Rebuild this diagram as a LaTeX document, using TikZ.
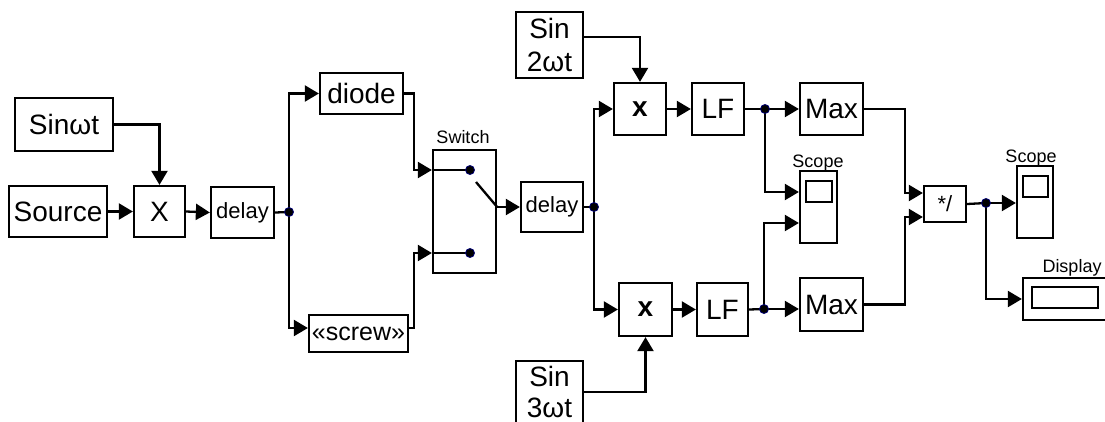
\documentclass[tikz,border=0pt]{standalone}
\usepackage{fontspec}
\setmainfont{Liberation Sans}
\usetikzlibrary{arrows.meta,calc}
\begin{document}
\begin{tikzpicture}[x=1pt,y=-1pt,
  blk/.style={draw, line width=2.3pt, inner sep=0pt, rectangle},
  arr/.style={line width=2.3pt, -{Triangle[length=14pt,width=16pt]}},
  ln/.style={line width=2.3pt},
  dotst/.style={fill=black, draw=blue!45!black, line width=0.8pt},
  big/.style={font=\fontsize{28}{33}\selectfont},
  mid/.style={font=\fontsize{22}{26}\selectfont},
  small/.style={font=\fontsize{18}{21}\selectfont, inner sep=0pt}]
\useasboundingbox (0,0) rectangle (1105,421);
\fill[white] (0,0) rectangle (1105,421);
\clip (0,0) rectangle (1105,421);

% blocks
\node[blk,big,minimum width=98pt,minimum height=53pt] (sinwt) at (64,124.5) {Sinωt};
\node[blk,big,minimum width=98pt,minimum height=51pt] (source) at (58,211.5) {Source};
\node[blk,big,minimum width=51pt,minimum height=51pt] (mult0) at (159.5,211.5) {X};
\node[blk,mid,minimum width=63pt,minimum height=51pt] (delay1) at (242.5,212.5) {delay};
\node[blk,big,minimum width=83pt,minimum height=41pt] (diode) at (361.5,93.5) {diode};
\node[blk,font=\fontsize{25}{29}\selectfont,minimum width=99pt,minimum height=37pt] (screw) at (358.5,333.5) {«screw»};
\node[blk,minimum width=63pt,minimum height=123pt] (switch) at (464.5,211.5) {};
\node[small] (swlab) at (463,137) {Switch};
\node[blk,mid,minimum width=62pt,minimum height=50pt] (delay2) at (552,207) {delay};
\node[blk,big,align=center,minimum width=67pt,minimum height=66pt] (sin2) at (549.5,45) {Sin\\2ωt};
\node[blk,font=\fontsize{28}{31}\selectfont,align=center,minimum width=67pt,minimum height=62pt] (sin3) at (549.5,392) {Sin\\3ωt};
\node[blk,big,minimum width=52pt,minimum height=52pt] (x1) at (640,109) {\textbf{x}};
\node[blk,big,minimum width=53pt,minimum height=53pt] (x2) at (645.5,309.5) {\textbf{x}};
\node[blk,big,minimum width=52pt,minimum height=52pt] (lf1) at (718,109) {LF};
\node[blk,big,minimum width=51pt,minimum height=53pt] (lf2) at (722.5,309.5) {LF};
\node[blk,big,minimum width=63pt,minimum height=52pt] (max1) at (831.5,109) {Max};
\node[blk,big,minimum width=63pt,minimum height=53pt] (max2) at (831.5,304.5) {Max};
\node[blk,minimum width=37pt,minimum height=72pt] (sc1) at (818.5,207) {};
\node[blk,minimum width=26pt,minimum height=21pt] (sc1in) at (819,191.5) {};
\node[small] (sc1lab) at (818,163) {Scope};
\node[blk,mid,minimum width=42pt,minimum height=36pt] (div) at (945,204) {*/};
\node[blk,minimum width=36pt,minimum height=72pt] (sc2) at (1035,202) {};
\node[blk,minimum width=25pt,minimum height=21pt] (sc2in) at (1035.5,186.5) {};
\node[small] (sc2lab) at (1031,158) {Scope};
\node[blk,minimum width=84pt,minimum height=42pt] (disp) at (1065,299) {};
\node[blk,minimum width=66pt,minimum height=21pt] (dispin) at (1065,297.5) {};
\node[small] (displab) at (1072,268) {Display};

% junctions and switch contacts
\coordinate (d1) at (289,212);
\coordinate (d2) at (594,207);
\coordinate (d3) at (765,109);
\coordinate (d4) at (764,309);
\coordinate (d5) at (986,203);
\coordinate (swa) at (470,170);
\coordinate (swb) at (470,253);
\coordinate (lev) at (476,182);

% connectors
\draw[arr] (sinwt.east) -| (mult0.north);
\draw[arr] (source.east) -- (mult0.west);
\draw[arr] (mult0.east) -- (delay1.west);
\draw[ln] (delay1.east) -- (d1);
\draw[arr] (d1) |- (diode.west);
\draw[arr] (d1) |- ([yshift=5.5pt]screw.west);
\draw[arr] (diode.east) -- ++(10,0) |- (switch.west |- swa);
\draw[arr] ([yshift=5.5pt]screw.east) -- ++(5,0) |- (switch.west |- swb);
\draw[ln] (switch.west |- swa) -- (swa);
\draw[ln] (switch.west |- swb) -- (swb);
\draw[ln] (lev) -- (switch.east |- delay2.west);
\draw[arr] (switch.east |- delay2.west) -- (delay2.west);
\draw[ln] (delay2.east) -- (d2);
\draw[arr] (d2) |- (x1.west);
\draw[arr] (d2) |- (x2.west);
\draw[arr] ([yshift=8pt]sin2.east) -| (x1.north);
\draw[arr] (sin3.east) -| (x2.south);
\draw[arr] (x1.east) -- (lf1.west);
\draw[arr] (x2.east) -- (lf2.west);
\draw[ln] (lf1.east) -- (d3);
\draw[ln] (lf2.east) -- (d4);
\draw[arr] (d3) -- (max1.west);
\draw[arr] (d4) -- (d4 -| max2.west);
\draw[arr] (d3) |- ([yshift=15pt]sc1.west);
\draw[arr] (d4) |- ([yshift=-16pt]sc1.west);
\draw[arr] (max1.east) -- ++(41,0) |- ([yshift=11pt]div.west);
\draw[arr] (max2.east) -- ++(41,0) |- ([yshift=-13pt]div.west);
\draw[ln] (div.east) -- (d5);
\draw[arr] (d5) -- (d5 -| sc2.west);
\draw[arr] (d5) |- (disp.west);

% dots
\foreach \c in {d1,d2,d3,d4,d5,swa,swb}
  \filldraw[dotst] (\c) circle (4.5pt);
\end{tikzpicture}
\end{document}
